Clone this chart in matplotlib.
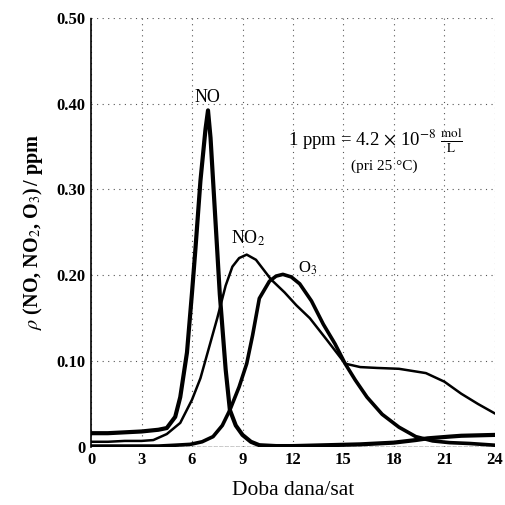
import numpy as np
import matplotlib.pyplot as plt

plt.rcParams['font.family'] = 'Liberation Serif'
plt.rcParams['mathtext.fontset'] = 'stix'

# sati (x) i koncentracije u ppm, ocitano sa slike
no_h = [0, 1, 2, 3, 4, 4.5, 5, 5.3, 5.7, 6.0, 6.2, 6.5, 6.8, 6.95, 7.1, 7.5, 7.65, 8.0, 8.25, 8.6, 9.0, 9.5, 10, 11, 12, 14, 16, 18, 19.3, 20, 21.3, 22, 24]
no_c = [0.016, 0.016, 0.017, 0.018, 0.020, 0.022, 0.035, 0.058, 0.11, 0.18, 0.23, 0.31, 0.37, 0.392, 0.36, 0.228, 0.178, 0.09, 0.043, 0.025, 0.014, 0.006, 0.002, 0.001, 0.001, 0.002, 0.003, 0.005, 0.008, 0.010, 0.012, 0.013, 0.014]

no2_h = [0, 1, 2, 3, 3.7, 4.5, 5.3, 6.0, 6.5, 7.0, 7.5, 8.0, 8.4, 8.8, 9.25, 9.8, 10.7, 11.5, 12.2, 13, 14, 15.1, 16, 17, 18.3, 19.9, 21, 22, 23, 24]
no2_c = [0.006, 0.006, 0.007, 0.007, 0.008, 0.015, 0.028, 0.055, 0.08, 0.115, 0.15, 0.188, 0.21, 0.22, 0.224, 0.218, 0.195, 0.18, 0.165, 0.15, 0.125, 0.097, 0.093, 0.092, 0.091, 0.086, 0.076, 0.062, 0.050, 0.039]

o3_h = [0, 2, 4, 5, 5.9, 6.6, 7.25, 7.8, 8.25, 8.8, 9.25, 9.6, 10, 10.6, 11, 11.4, 11.9, 12.4, 13.1, 13.8, 14.5, 15.1, 15.7, 16.4, 17.3, 18.3, 19.3, 20.3, 21.3, 22.5, 24]
o3_c = [0.001, 0.001, 0.001, 0.002, 0.003, 0.006, 0.012, 0.025, 0.043, 0.07, 0.097, 0.13, 0.173, 0.193, 0.199, 0.201, 0.198, 0.19, 0.17, 0.143, 0.12, 0.097, 0.078, 0.058, 0.038, 0.023, 0.012, 0.007, 0.005, 0.004, 0.002]

x_ticks = [0, 3, 6, 9, 12, 15, 18, 21, 24]
y_ticks = [0, 0.1, 0.2, 0.3, 0.4, 0.5]
y_labels = ['0', '0.10', '0.20', '0.30', '0.40', '0.50']

fig = plt.figure(figsize=(5.06, 5.05), dpi=100)
ax = fig.add_axes([0.18, 0.115, 0.798, 0.85])

ax.plot(no_h, no_c, color='black', lw=3.0, solid_joinstyle='round')
ax.plot(no2_h, no2_c, color='black', lw=1.8, solid_joinstyle='round')
ax.plot(o3_h, o3_c, color='black', lw=2.6, solid_joinstyle='round')

ax.set_xlim(0, 24)
ax.set_ylim(0, 0.5)
ax.set_xticks(x_ticks)
ax.set_xticklabels([str(t) for t in x_ticks], fontsize=12, fontweight='bold')
ax.set_yticks(y_ticks)
ax.set_yticklabels(y_labels, fontsize=12, fontweight='bold')
ax.tick_params(length=0, pad=4)

ax.grid(True, color='#555555', linestyle=(0, (1, 4)), lw=0.8)
for s in ['top', 'right', 'bottom']:
    ax.spines[s].set_visible(False)
ax.spines['left'].set_linestyle((0, (2, 1)))
ax.spines['left'].set_linewidth(1.2)
ax.axhline(0, color='black', lw=1.0, linestyle=(0, (3, 1)))

ax.set_xlabel('Doba dana/sat', fontsize=15.5, labelpad=9)
ax.set_ylabel(r'$\rho$ (NO, NO$_2$, O$_3$)$\,$/ ppm', fontsize=14.5, fontweight='bold', labelpad=8)

ax.text(6.9, 0.397, 'NO', fontsize=13, ha='center', va='bottom')
ax.text(8.3, 0.232, 'NO$_2$', fontsize=13, ha='left', va='bottom')
ax.text(12.9, 0.198, 'O$_3$', fontsize=12, ha='center', va='bottom')
ax.text(16.9, 0.357, r'1 ppm = 4.2 $\times$ 10$^{-8}$ $\frac{\mathrm{mol}}{\mathrm{L}}$', fontsize=13.5, ha='center', va='center')
ax.text(17.4, 0.327, '(pri 25 °C)', fontsize=11, ha='center', va='center')

fig.savefig('out.png', dpi=100)
